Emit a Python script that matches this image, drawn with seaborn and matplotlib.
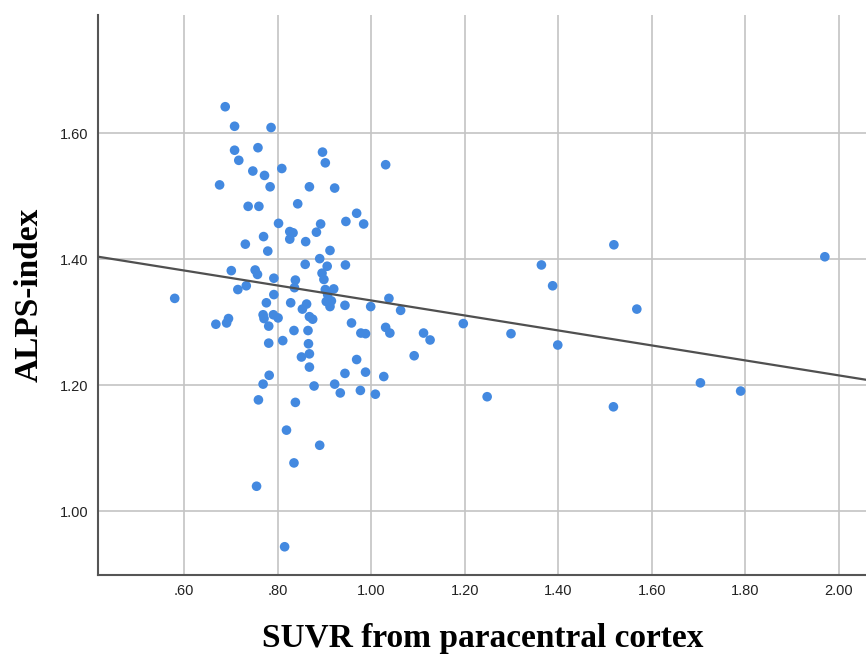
import matplotlib
matplotlib.use("Agg")
import matplotlib.pyplot as plt
import numpy as np
import pandas as pd
import seaborn as sns

# SUVR values (x)
suvr = [
    0.688, 0.708, 0.786, 0.708, 0.758, 0.896, 0.902, 1.031, 0.717, 0.747,
    0.772, 0.809, 0.676, 0.784, 0.868, 0.922, 0.737, 0.760, 0.843, 0.969,
    0.946, 0.984, 0.802, 0.892, 0.883, 0.826, 0.833, 0.826, 0.860, 0.770,
    0.731, 0.779, 0.912, 0.890, 0.859, 0.906, 0.945, 0.701, 0.752, 0.757,
    0.792, 0.838, 0.895, 0.899, 0.836, 0.715, 0.733, 0.792, 0.580, 0.776,
    0.828, 0.862, 0.853, 0.902, 0.920, 0.907, 0.904, 0.915, 0.912, 0.944,
    0.999, 1.038, 1.063, 0.769, 0.771, 0.791, 0.801, 0.868, 0.875, 0.695,
    0.691, 0.668, 0.781, 0.958, 0.835, 0.865, 1.031, 1.040, 0.978, 0.988,
    0.781, 0.811, 0.866, 0.868, 0.851, 0.969, 0.868, 0.988, 0.944, 1.027,
    0.782, 0.769, 0.878, 0.922, 0.934, 0.977, 1.009, 0.759, 0.838, 0.819,
    0.890, 0.835, 0.755, 0.815, 1.112, 1.126, 1.092, 1.197, 1.299, 1.364,
    1.388, 1.399, 1.519, 1.568, 1.248, 1.518, 1.704, 1.790, 1.970,
]

# ALPS-index values (y)
alps = [
    1.642, 1.611, 1.609, 1.573, 1.577, 1.570, 1.553, 1.550, 1.557, 1.540,
    1.533, 1.544, 1.518, 1.515, 1.515, 1.513, 1.484, 1.484, 1.488, 1.473,
    1.460, 1.456, 1.457, 1.456, 1.443, 1.444, 1.442, 1.432, 1.428, 1.436,
    1.424, 1.413, 1.414, 1.401, 1.392, 1.389, 1.391, 1.382, 1.383, 1.376,
    1.370, 1.367, 1.378, 1.368, 1.355, 1.352, 1.358, 1.344, 1.338, 1.331,
    1.331, 1.329, 1.321, 1.352, 1.353, 1.344, 1.333, 1.334, 1.325, 1.327,
    1.325, 1.338, 1.319, 1.312, 1.306, 1.312, 1.307, 1.309, 1.305, 1.306,
    1.299, 1.297, 1.294, 1.299, 1.287, 1.287, 1.292, 1.283, 1.283, 1.282,
    1.267, 1.271, 1.266, 1.250, 1.245, 1.241, 1.229, 1.221, 1.219, 1.214,
    1.216, 1.202, 1.199, 1.202, 1.188, 1.192, 1.186, 1.177, 1.173, 1.129,
    1.105, 1.077, 1.040, 0.944, 1.283, 1.272, 1.247, 1.298, 1.282, 1.391,
    1.358, 1.264, 1.423, 1.321, 1.182, 1.166, 1.204, 1.191, 1.404,
]

x_ticks = [0.6, 0.8, 1.0, 1.2, 1.4, 1.6, 1.8, 2.0]
x_labels = [".60", ".80", "1.00", "1.20", "1.40", "1.60", "1.80", "2.00"]
y_ticks = [1.0, 1.2, 1.4, 1.6]
y_labels = ["1.00", "1.20", "1.40", "1.60"]

df = pd.DataFrame({"suvr": suvr, "alps": alps})

sns.set_style("whitegrid")
plt.rcParams["font.family"] = ["Liberation Sans", "DejaVu Sans"]

fig = plt.figure(figsize=(8.66, 6.55), dpi=100)
ax = fig.add_axes([0.1137, 0.1229, 0.8863, 0.8542])

ax.set_xlim(0.417, 2.058)
ax.set_ylim(0.900, 1.7875)

sns.scatterplot(data=df, x="suvr", y="alps", ax=ax, color="#4389e0",
                s=48, edgecolor="none", zorder=3)
sns.regplot(data=df, x="suvr", y="alps", ax=ax, scatter=False, ci=None,
            truncate=False, line_kws={"color": "#505050", "linewidth": 1.6,
                                      "zorder": 4})

ax.set_xlim(0.417, 2.058)
ax.set_ylim(0.900, 1.7875)
ax.set_xticks(x_ticks)
ax.set_xticklabels(x_labels)
ax.set_yticks(y_ticks)
ax.set_yticklabels(y_labels)
ax.tick_params(axis="both", length=0, labelsize=10.5, colors="#222222", pad=7)

ax.grid(True, color="#c4c4c4", linewidth=1.2)
for side in ["top", "right"]:
    ax.spines[side].set_visible(False)
for side in ["left", "bottom"]:
    ax.spines[side].set_color("#555555")
    ax.spines[side].set_linewidth(1.5)

serif = ["Liberation Serif", "DejaVu Serif"]
ax.set_xlabel("SUVR from paracentral cortex", fontsize=24, fontweight="bold",
              family=serif, color="black", labelpad=18)
ax.set_ylabel("ALPS-index", fontsize=24, fontweight="bold",
              family=serif, color="black", labelpad=11)

fig.savefig("out.png", dpi=100)
